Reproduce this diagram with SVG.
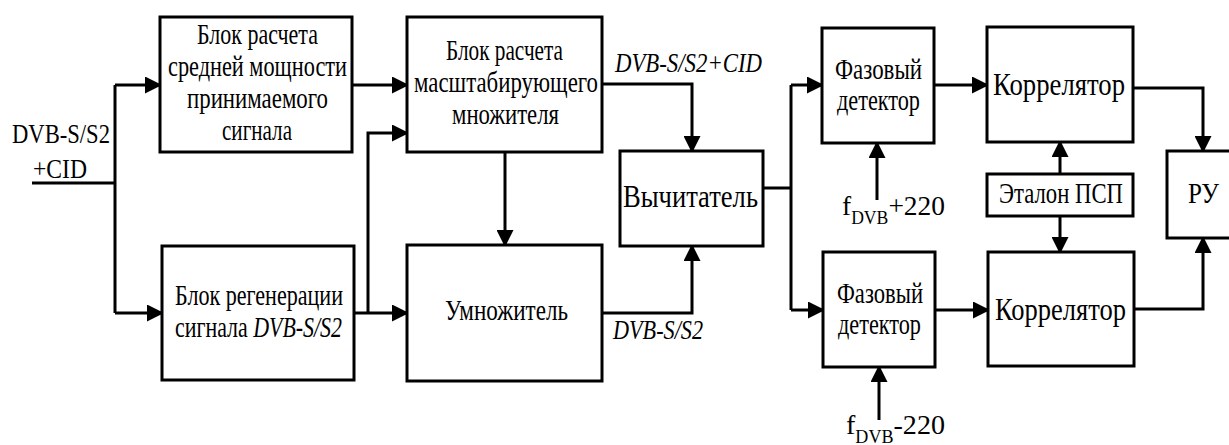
<svg xmlns="http://www.w3.org/2000/svg" width="1229" height="445" viewBox="0 0 1229 445">
<style>
.box{fill:#fff;stroke:#000;stroke-width:3}
.ln{fill:none;stroke:#000;stroke-width:3}
.t{font-size:30px}
.tb{font-size:32px}
.it{font-size:28px;font-style:italic}
.lb{font-size:28px}
.sb{font-size:18px}
</style>
<defs>
<marker id="ah" markerUnits="userSpaceOnUse" viewBox="0 0 17 17" refX="15" refY="8.5" markerWidth="17" markerHeight="17" orient="auto">
<path d="M0,0 L17,8.5 L0,17 Z" fill="#000"/>
</marker>
</defs>
<g id="connectors">
<path class="ln" d="M32,183 H115"/>
<path class="ln" d="M115,85 V313"/>
<path class="ln" d="M115,85 H160" marker-end="url(#ah)"/>
<path class="ln" d="M115,313 H162" marker-end="url(#ah)"/>
<path class="ln" d="M352,85 H407" marker-end="url(#ah)"/>
<path class="ln" d="M354,313 H407" marker-end="url(#ah)"/>
<path class="ln" d="M368,313 V133 H407" marker-end="url(#ah)"/>
<path class="ln" d="M505,152 V245" marker-end="url(#ah)"/>
<path class="ln" d="M602,84 H692 V151" marker-end="url(#ah)"/>
<path class="ln" d="M602,313 H692 V246" marker-end="url(#ah)"/>
<path class="ln" d="M763,188 H791"/>
<path class="ln" d="M791,85 V310"/>
<path class="ln" d="M791,85 H822" marker-end="url(#ah)"/>
<path class="ln" d="M791,310 H823" marker-end="url(#ah)"/>
<path class="ln" d="M934,85 H987" marker-end="url(#ah)"/>
<path class="ln" d="M935,310 H988" marker-end="url(#ah)"/>
<path class="ln" d="M1133,88 H1203 V151" marker-end="url(#ah)"/>
<path class="ln" d="M1134,309 H1203 V238" marker-end="url(#ah)"/>
<path class="ln" d="M1060,174 V142" marker-end="url(#ah)"/>
<path class="ln" d="M1060,216 V252" marker-end="url(#ah)"/>
<path class="ln" d="M877,200 V143" marker-end="url(#ah)"/>
<path class="ln" d="M879,420 V367" marker-end="url(#ah)"/>
</g>
<g font-family="Liberation Serif, Times New Roman, Tinos, DejaVu Serif, serif" fill="#000">
<g id="input-label">
<text class="lb" x="12" y="143" font-size="27" textLength="98" lengthAdjust="spacingAndGlyphs">DVB-S/S2</text>
<text class="lb" x="33" y="178" font-size="27" textLength="54" lengthAdjust="spacingAndGlyphs">+CID</text>
</g>
<g id="power-block">
<rect class="box" x="160" y="17" width="192" height="135"/>
<text class="t" x="197" y="44" textLength="121" lengthAdjust="spacingAndGlyphs">Блок расчета</text>
<text class="t" x="168" y="76" textLength="179" lengthAdjust="spacingAndGlyphs">средней мощности</text>
<text class="t" x="187" y="108" textLength="141" lengthAdjust="spacingAndGlyphs">принимаемого</text>
<text class="t" x="222" y="140" textLength="70" lengthAdjust="spacingAndGlyphs">сигнала</text>
</g>
<g id="scale-block">
<rect class="box" x="407" y="17" width="195" height="135"/>
<text class="t" x="446" y="60" textLength="117" lengthAdjust="spacingAndGlyphs">Блок расчета</text>
<text class="t" x="414" y="92" textLength="184" lengthAdjust="spacingAndGlyphs">масштабирующего</text>
<text class="t" x="452" y="124" textLength="107" lengthAdjust="spacingAndGlyphs">множителя</text>
</g>
<g id="regen-block">
<rect class="box" x="162" y="246" width="192" height="134"/>
<text class="t" x="175" y="305" textLength="168" lengthAdjust="spacingAndGlyphs">Блок регенерации</text>
<text class="t" x="175" y="337" textLength="167" lengthAdjust="spacingAndGlyphs">сигнала <tspan font-style="italic">DVB-S/S2</tspan></text>
</g>
<g id="multiplier">
<rect class="box" x="407" y="245" width="195" height="136"/>
<text class="t" x="445" y="320" textLength="123" lengthAdjust="spacingAndGlyphs">Умножитель</text>
</g>
<g id="subtractor">
<rect class="box" x="620" y="151" width="143" height="95"/>
<text class="tb" x="623" y="207" textLength="135" lengthAdjust="spacingAndGlyphs">Вычитатель</text>
</g>
<g id="signal-labels">
<text class="it" x="615" y="72" textLength="147" lengthAdjust="spacingAndGlyphs">DVB-S/S2+CID</text>
<text class="it" x="613" y="339" textLength="90" lengthAdjust="spacingAndGlyphs">DVB-S/S2</text>
</g>
<g id="phase-detector-1">
<rect class="box" x="822" y="28" width="112" height="115"/>
<text class="t" x="835" y="79" textLength="87" lengthAdjust="spacingAndGlyphs">Фазовый</text>
<text class="t" x="837" y="110" textLength="83" lengthAdjust="spacingAndGlyphs">детектор</text>
</g>
<g id="phase-detector-2">
<rect class="box" x="823" y="252" width="112" height="115"/>
<text class="t" x="837" y="303" textLength="86" lengthAdjust="spacingAndGlyphs">Фазовый</text>
<text class="t" x="838" y="334" textLength="83" lengthAdjust="spacingAndGlyphs">детектор</text>
</g>
<g id="correlator-1">
<rect class="box" x="987" y="27" width="146" height="115"/>
<text class="tb" x="993" y="95" textLength="132" lengthAdjust="spacingAndGlyphs">Коррелятор</text>
</g>
<g id="correlator-2">
<rect class="box" x="988" y="252" width="146" height="114"/>
<text class="tb" x="995" y="320" textLength="131" lengthAdjust="spacingAndGlyphs">Коррелятор</text>
</g>
<g id="reference-psp">
<rect class="box" x="987" y="174" width="146" height="42"/>
<text class="t" x="999" y="203" textLength="124" lengthAdjust="spacingAndGlyphs">Эталон ПСП</text>
</g>
<g id="decision-unit">
<rect class="box" x="1167" y="151" width="70" height="87"/>
<text class="t" x="1188" y="203" textLength="31" lengthAdjust="spacingAndGlyphs">РУ</text>
</g>
<g id="freq-plus">
<text class="lb" x="842" y="215" textLength="103" lengthAdjust="spacingAndGlyphs">f<tspan class="sb" dy="9">DVB</tspan><tspan dy="-9">+220</tspan></text>
</g>
<g id="freq-minus">
<text class="lb" x="846" y="434" textLength="99" lengthAdjust="spacingAndGlyphs">f<tspan class="sb" dy="9">DVB</tspan><tspan dy="-9">-220</tspan></text>
</g>
</g>
</svg>
